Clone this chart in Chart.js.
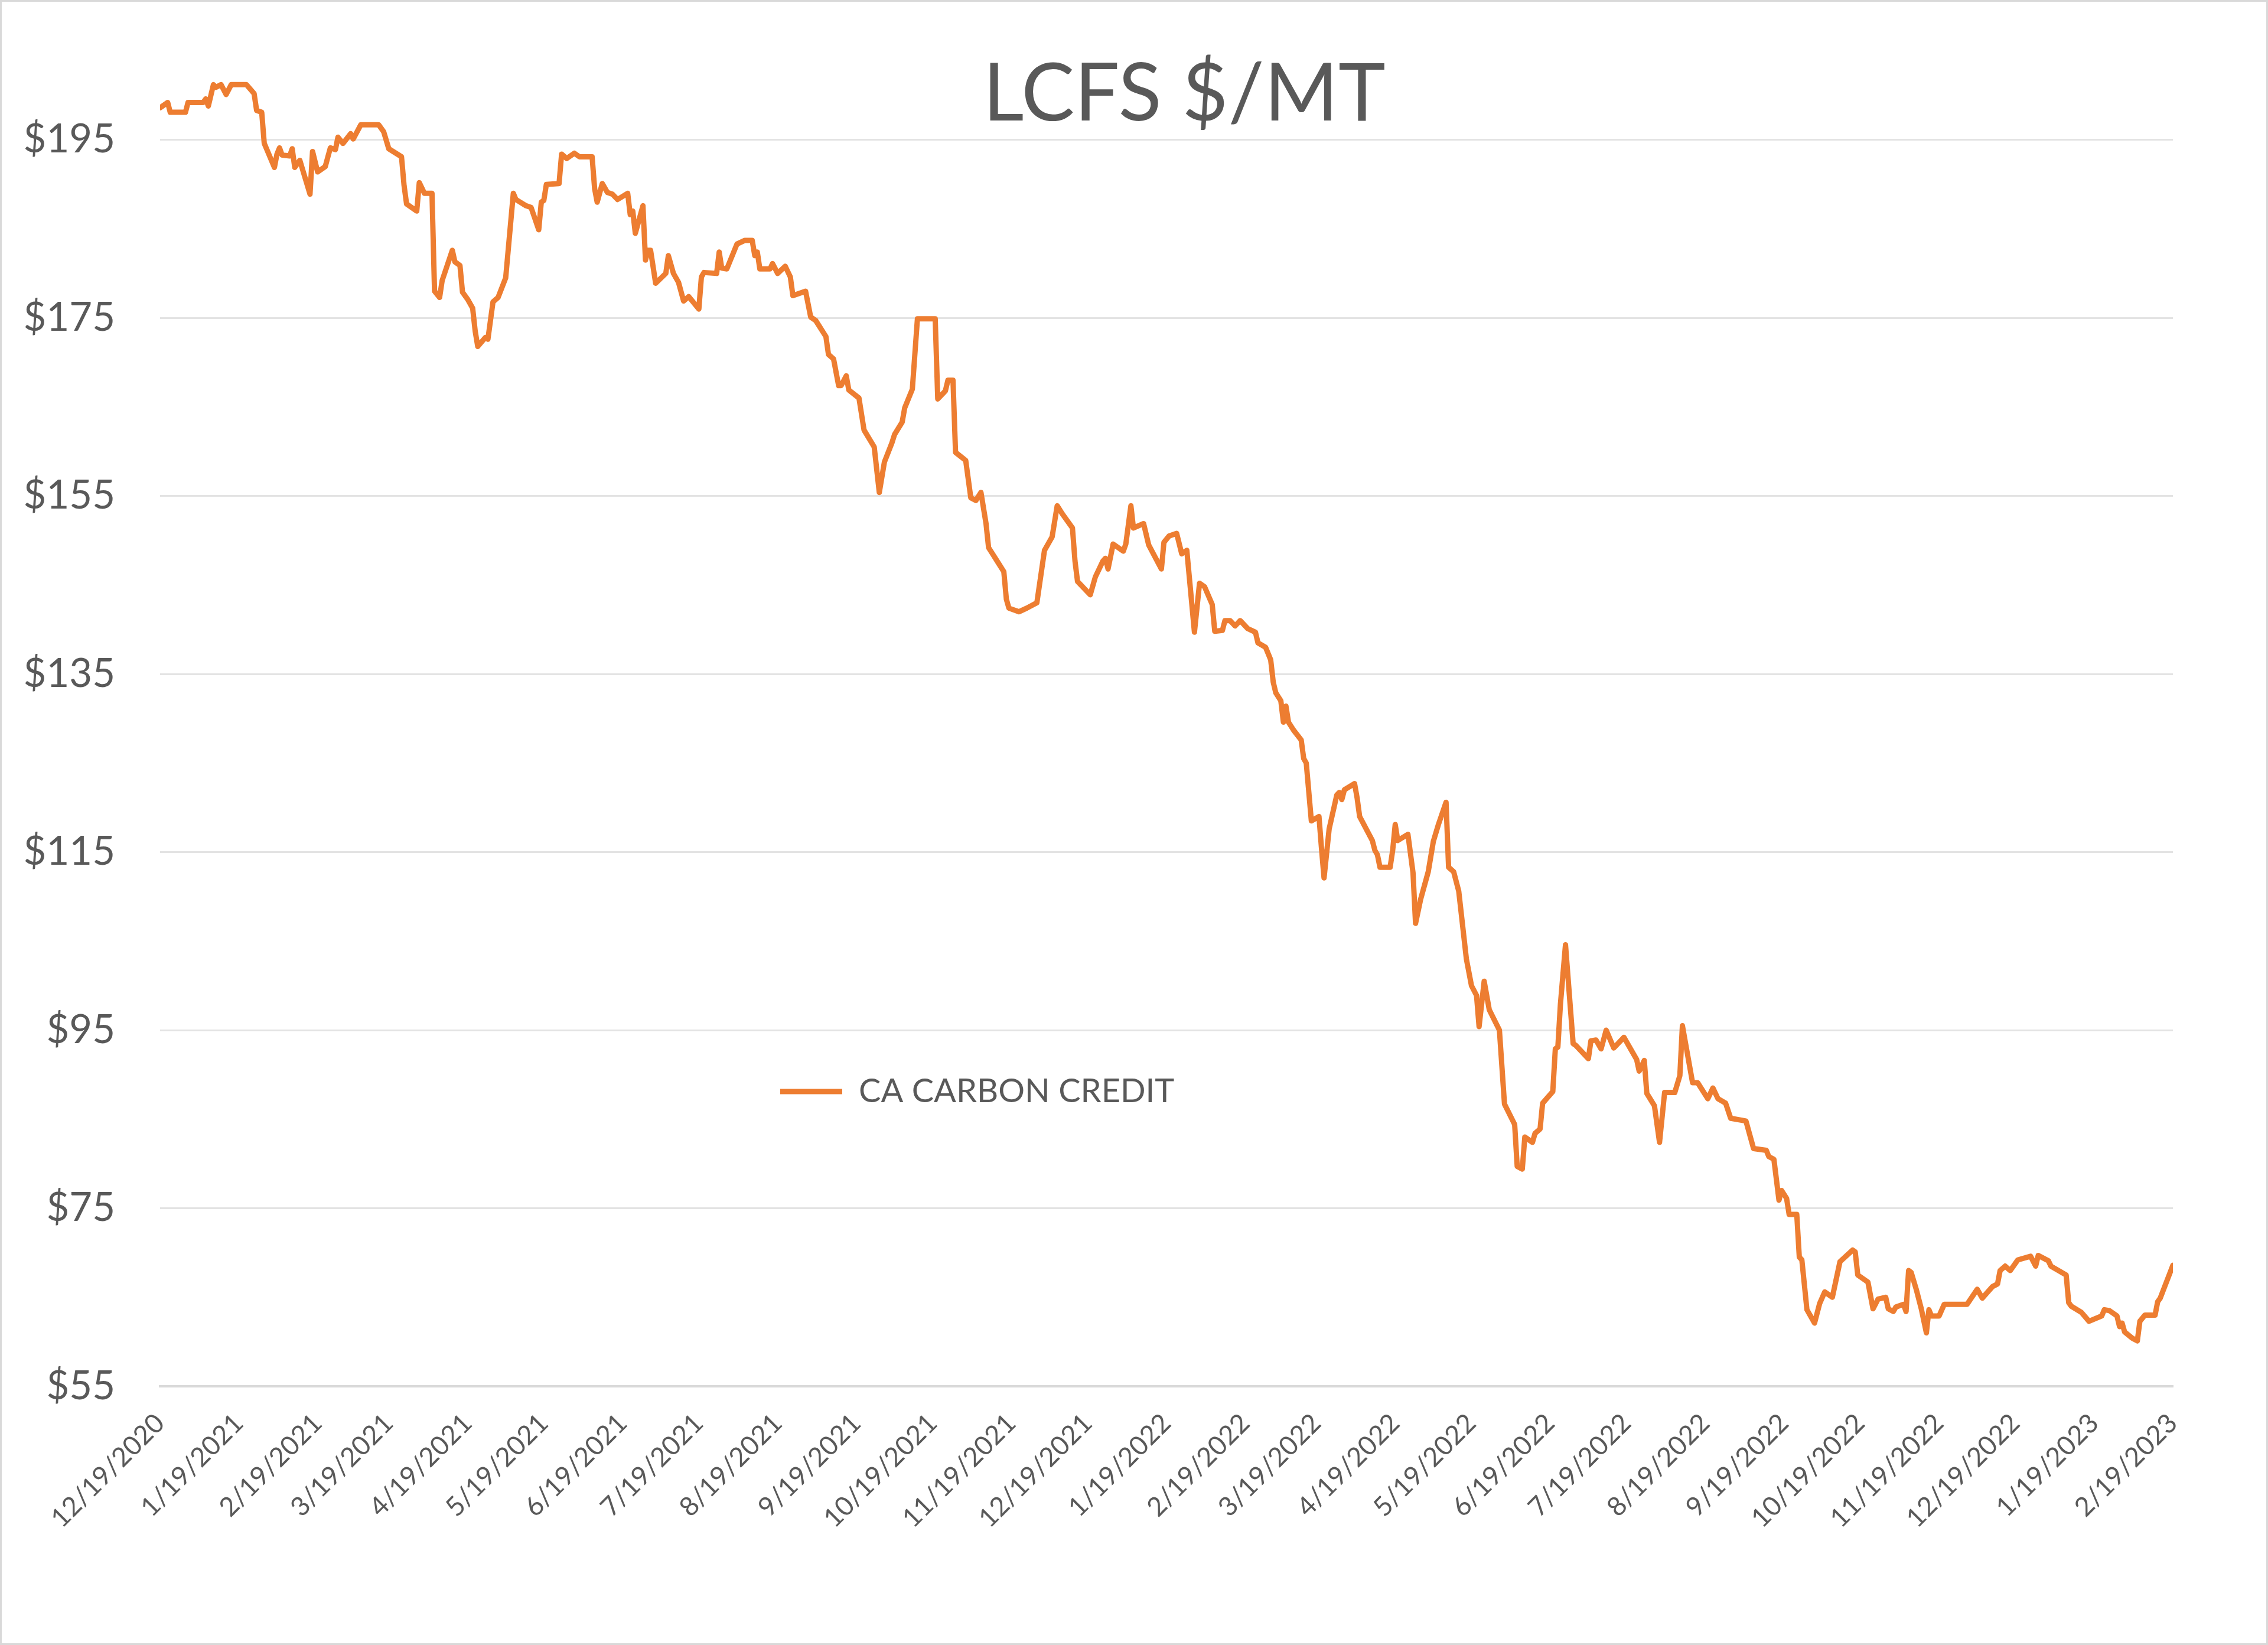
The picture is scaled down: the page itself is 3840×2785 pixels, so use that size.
<!DOCTYPE html>
<html>
<head>
<meta charset="utf-8">
<title>LCFS $/MT</title>
<script src="https://cdn.jsdelivr.net/npm/chart.js@4.4.0/dist/chart.umd.min.js"></script>
<style>
  html, body { margin: 0; padding: 0; background: #fff; }
  #wrap { width: 3840px; height: 2785px; }
  #lcfs { display: block; outline: 3px solid #d9d9d9; outline-offset: -3px; }
</style>
</head>
<body>
<div id="wrap"><canvas id="lcfs" width="3840" height="2785"></canvas></div>
<script>
// LCFS credit price.
// x = days since 12/19/2020, y = $/MT

const seriesName = "CA CARBON CREDIT";

const days = [
  0, 3, 4, 10, 11, 17, 18, 19, 21, 22,
  24, 26, 28, 34, 37, 38, 40, 41, 45, 46,
  47, 48, 51, 52, 53, 55, 59, 60, 62, 65,
  67, 69, 70, 72, 75, 76, 79, 86, 88, 90,
  95, 96, 97, 101, 102, 104, 107, 108, 110, 111,
  115, 116, 118, 119, 121, 123, 124, 125, 128, 129,
  131, 133, 136, 139, 140, 144, 146, 149, 150, 151,
  152, 157, 158, 160, 163, 165, 170, 171, 172, 174,
  176, 178, 180, 184, 185, 186, 187, 190, 191, 192,
  193, 195, 199, 200, 202, 204, 206, 208, 212, 213,
  214, 219, 220, 221, 223, 227, 230, 233, 234, 235,
  236, 240, 241, 243, 246, 248, 249, 254, 256, 258,
  262, 263, 265, 267, 268, 270, 271, 275, 277, 281,
  283, 285, 288, 289, 292, 293, 296, 298, 305, 306,
  309, 310, 312, 313, 317, 319, 321, 323, 325, 326,
  328, 330, 332, 333, 334, 338, 341, 345, 348, 351,
  353, 355, 359, 360, 361, 366, 368, 371, 372, 373,
  375, 379, 380, 382, 383, 387, 389, 394, 395, 397,
  400, 402, 404, 407, 409, 411, 414, 415, 418, 419,
  421, 423, 425, 428, 431, 432, 435, 437, 438, 439,
  441, 442, 443, 444, 446, 449, 450, 451, 453, 456,
  457, 458, 460, 463, 464, 465, 466, 470, 471, 472,
  477, 478, 479, 480, 484, 485, 486, 487, 491, 493,
  494, 496, 499, 501, 503, 506, 507, 509, 511, 514,
  516, 518, 519, 521, 523, 527, 529, 533, 534, 536,
  537, 540, 541, 543, 544, 548, 549, 550, 551, 553,
  556, 557, 562, 563, 565, 567, 569, 572, 576, 578,
  581, 582, 584, 585, 588, 590, 592, 596, 598, 599,
  603, 605, 609, 611, 613, 616, 618, 624, 627, 632,
  633, 635, 637, 638, 640, 641, 644, 645, 646, 648,
  651, 653, 655, 658, 661, 666, 667, 668, 672, 674,
  676, 679, 680, 682, 683, 686, 687, 688, 689, 691,
  693, 695, 696, 697, 700, 702, 711, 715, 717, 721,
  723, 724, 726, 728, 731, 736, 738, 739, 743, 744,
  747, 750, 751, 752, 756, 759, 764, 765, 767, 770,
  771, 772, 773, 776, 778, 779, 781, 785, 786, 787,
  792
];

const prices = [
  198.6, 199.2, 198.1, 198.1, 199.2, 199.2, 199.6, 198.8, 201.2, 200.9,
  201.2, 200.1, 201.2, 201.2, 200.2, 198.3, 198.1, 194.6, 191.9, 193.4,
  194.1, 193.3, 193.2, 194.0, 191.9, 192.7, 188.9, 193.7, 191.4, 192.0,
  194.1, 193.9, 195.3, 194.6, 195.7, 195.1, 196.7, 196.7, 195.9, 194.0,
  193.1, 189.9, 187.8, 187.0, 190.2, 189.0, 189.0, 178.0, 177.3, 179.2,
  182.6, 181.3, 180.9, 177.9, 177.1, 176.1, 173.5, 171.8, 172.8, 172.6,
  176.8, 177.3, 179.5, 189.0, 188.3, 187.6, 187.4, 184.9, 188.0, 188.2,
  190.0, 190.1, 193.4, 192.9, 193.5, 193.1, 193.1, 189.5, 188.0, 190.1,
  189.1, 188.9, 188.3, 189.0, 186.6, 187.0, 184.5, 187.6, 181.5, 182.6,
  182.6, 178.9, 180.0, 182.0, 180.0, 179.0, 176.9, 177.4, 176.0, 179.6,
  180.1, 180.0, 182.4, 180.6, 180.5, 183.3, 183.7, 183.7, 182.0, 182.4,
  180.5, 180.5, 181.1, 180.0, 180.8, 179.6, 177.5, 178.0, 175.1, 174.7,
  172.9, 170.9, 170.4, 167.4, 167.4, 168.5, 166.9, 166.0, 162.4, 160.5,
  155.4, 158.8, 161.0, 161.9, 163.3, 164.9, 167.0, 174.9, 174.9, 165.9,
  166.8, 168.0, 168.0, 159.9, 159.0, 154.8, 154.5, 155.4, 151.9, 149.2,
  148.3, 147.4, 146.5, 143.4, 142.4, 142.0, 142.4, 143.0, 148.9, 150.4,
  153.9, 153.0, 151.4, 147.7, 145.4, 143.9, 145.9, 147.7, 148.0, 146.8,
  149.6, 148.8, 149.6, 153.9, 151.4, 151.9, 149.5, 146.8, 149.8, 150.5,
  150.8, 148.5, 148.9, 139.7, 145.2, 144.8, 142.8, 139.8, 139.9, 141.0,
  141.0, 140.4, 141.0, 140.1, 139.7, 138.5, 138.0, 136.6, 134.1, 132.9,
  132.0, 129.6, 131.4, 129.6, 128.7, 127.6, 125.5, 125.0, 118.5, 119.0,
  115.4, 112.1, 117.6, 121.4, 121.7, 120.9, 122.0, 122.7, 121.1, 119.0,
  116.3, 115.2, 114.7, 113.3, 113.3, 115.2, 118.1, 116.3, 117.0, 112.7,
  107.0, 109.7, 112.8, 116.2, 118.1, 120.6, 113.3, 112.8, 110.6, 103.0,
  100.0, 98.9, 95.4, 100.5, 97.3, 95.0, 86.7, 84.4, 79.7, 79.4,
  83.0, 82.4, 83.4, 83.9, 86.8, 88.1, 92.9, 93.1, 97.9, 104.6,
  93.5, 93.3, 91.8, 93.8, 93.9, 92.9, 95.0, 93.0, 94.2, 93.2,
  91.7, 90.4, 91.6, 87.9, 86.5, 82.4, 88.0, 88.0, 89.9, 95.5,
  89.1, 89.1, 87.3, 88.5, 87.3, 86.8, 85.1, 84.8, 81.7, 81.5,
  80.8, 80.5, 75.9, 77.0, 76.1, 74.3, 74.3, 69.5, 69.2, 63.6,
  62.1, 64.3, 65.6, 65.0, 69.0, 70.3, 70.1, 67.5, 66.7, 63.7,
  64.8, 65.0, 63.7, 63.4, 63.9, 64.2, 63.4, 68.0, 67.8, 65.9,
  63.7, 61.0, 63.6, 62.9, 62.9, 64.2, 64.2, 65.9, 64.9, 66.2,
  66.5, 68.0, 68.5, 68.0, 69.2, 69.6, 68.5, 69.7, 69.1, 68.5,
  68.0, 67.5, 64.4, 64.0, 63.3, 62.3, 62.9, 63.6, 63.5, 62.9,
  61.7, 62.1, 61.1, 60.4, 60.1, 62.3, 63.0, 63.0, 64.5, 64.9,
  68.6
];

// monthly ticks on the 19th
const tickLabels = [
  "12/19/2020", "1/19/2021", "2/19/2021", "3/19/2021", "4/19/2021", "5/19/2021",
  "6/19/2021", "7/19/2021", "8/19/2021", "9/19/2021", "10/19/2021", "11/19/2021",
  "12/19/2021", "1/19/2022", "2/19/2022", "3/19/2022", "4/19/2022", "5/19/2022",
  "6/19/2022", "7/19/2022", "8/19/2022", "9/19/2022", "10/19/2022", "11/19/2022",
  "12/19/2022", "1/19/2023", "2/19/2023"
];
const tickDays = [
  0, 31, 62, 90, 121, 151, 182, 212, 243, 274, 304, 335, 365, 396,
  427, 455, 486, 516, 547, 577, 608, 639, 669, 700, 730, 761, 792
];

const yTicks = [55, 75, 95, 115, 135, 155, 175, 195];

const FONT = "Lato, 'Liberation Sans', sans-serif";
const GREY = "#595959";
const ORANGE = "#ED7D31";

// Excel puts title and legend on top of the plot; move them there after layout
const placeBoxes = {
  id: "placeBoxes",
  afterLayout(chart, args, opts) {
    const t = chart.titleBlock;
    if (t) { t.left += opts.titleShift; t.right += opts.titleShift; }
    const lg = chart.legend;
    if (lg) {
      const w = lg.width, h = lg.height;
      lg.left = opts.legendX; lg.right = opts.legendX + w;
      lg.top = opts.legendY; lg.bottom = opts.legendY + h;
    }
  }
};

Chart.defaults.font.family = FONT;

new Chart(document.getElementById("lcfs"), {
  type: "line",
  data: {
    datasets: [{
      label: seriesName,
      data: days.map((d, i) => ({ x: d, y: prices[i] })),
      borderColor: ORANGE,
      backgroundColor: ORANGE,
      borderWidth: 9,
      borderCapStyle: "round",
      borderJoinStyle: "round",
      pointRadius: 0,
      tension: 0,
    }],
  },
  options: {
    responsive: false,
    animation: false,
    devicePixelRatio: 1,
    layout: { padding: { left: 0, right: 161, top: 0, bottom: 0 } },
    plugins: {
      title: {
        display: true,
        text: "LCFS $/MT",
        color: GREY,
        fullSize: false,
        font: { family: FONT, size: 135, weight: "normal", lineHeight: 1.2 },
        padding: { top: 75, bottom: -125 },
      },
      legend: {
        position: "chartArea",
        align: "start",
        labels: {
          usePointStyle: true,
          pointStyle: "line",
          pointStyleWidth: 105,
          color: GREY,
          padding: 10,
          font: { family: FONT, size: 56 },
        },
      },
      tooltip: { enabled: false },
      placeBoxes: { titleShift: 30, legendX: 1311, legendY: 1810 },
    },
    scales: {
      x: {
        type: "linear",
        min: 0,
        max: 792,
        afterBuildTicks: (axis) => { axis.ticks = tickDays.map(v => ({ value: v })); },
        afterFit: (scale) => { scale.height = 438; },
        ticks: {
          autoSkip: false,
          minRotation: 45,
          maxRotation: 45,
          padding: 36,
          color: GREY,
          font: { family: FONT, size: 45 },
          callback: (v) => tickLabels[tickDays.indexOf(v)],
        },
        grid: { display: false, drawTicks: false },
        border: { display: true, color: "#d9d9d9", width: 4 },
      },
      y: {
        min: 55,
        max: 203,
        afterBuildTicks: (axis) => { axis.ticks = yTicks.map(v => ({ value: v })); },
        afterFit: (scale) => { scale.width = 271; },
        ticks: {
          padding: 76,
          color: GREY,
          font: { family: FONT, size: 67 },
          callback: (v) => "$" + v,
        },
        grid: { color: "#e3e3e3", lineWidth: 3, drawTicks: false },
        border: { display: false },
      },
    },
  },
  plugins: [placeBoxes],
});
</script>
</body>
</html>
